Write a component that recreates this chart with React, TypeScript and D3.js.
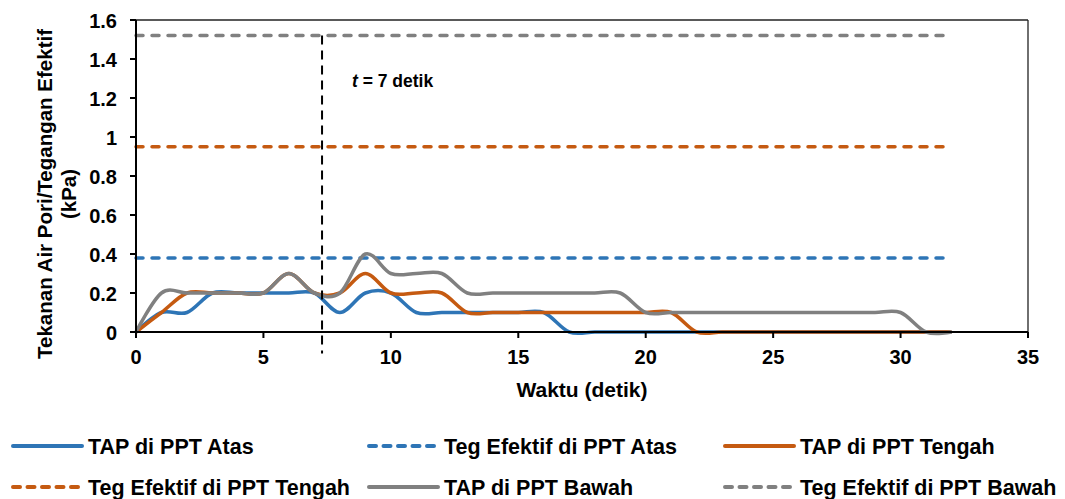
import React from "react";
import * as d3 from "d3";

const times = d3.range(0, 33);
const tapAtas = [0, 0.1, 0.1, 0.2, 0.2, 0.2, 0.2, 0.2, 0.1, 0.2, 0.2, 0.1, 0.1, 0.1, 0.1, 0.1, 0.1, 0, 0, 0, 0, 0, 0, 0, 0, 0, 0, 0, 0, 0, 0, 0, 0];
const tapTengah = [0, 0.1, 0.2, 0.2, 0.2, 0.2, 0.3, 0.2, 0.2, 0.3, 0.2, 0.2, 0.2, 0.1, 0.1, 0.1, 0.1, 0.1, 0.1, 0.1, 0.1, 0.1, 0, 0, 0, 0, 0, 0, 0, 0, 0, 0, 0];
const tapBawah = [0, 0.2, 0.2, 0.2, 0.2, 0.2, 0.3, 0.2, 0.2, 0.4, 0.3, 0.3, 0.3, 0.2, 0.2, 0.2, 0.2, 0.2, 0.2, 0.2, 0.1, 0.1, 0.1, 0.1, 0.1, 0.1, 0.1, 0.1, 0.1, 0.1, 0.1, 0, 0];
const tegAtas = 0.38;
const tegTengah = 0.95;
const tegBawah = 1.52;
const tegRange = [0, 32];
const markerT = 7.3;
const markerTop = 1.52;
const markerBottom = -0.11;
const xTicks = [0, 5, 10, 15, 20, 25, 30, 35];
const yTicks = [0, 0.2, 0.4, 0.6, 0.8, 1, 1.2, 1.4, 1.6];

const BLUE = "#2E75B6";
const ORANGE = "#C55A11";
const GRAY = "#808080";
const FONT = "'Liberation Sans', Arial, sans-serif";

const legendItems = [
  { label: "TAP di PPT Atas", color: BLUE, dashed: false },
  { label: "Teg Efektif di PPT Atas", color: BLUE, dashed: true },
  { label: "TAP di PPT Tengah", color: ORANGE, dashed: false },
  { label: "Teg Efektif di PPT Tengah", color: ORANGE, dashed: true },
  { label: "TAP di PPT Bawah", color: GRAY, dashed: false },
  { label: "Teg Efektif di PPT Bawah", color: GRAY, dashed: true },
];

export default function App() {
  const x = d3.scaleLinear().domain([0, 35]).range([136, 1028]);
  const y = d3.scaleLinear().domain([0, 1.6]).range([332, 20]);
  const line = d3
    .line<number>()
    .x((_, i) => x(times[i]))
    .y((d) => y(d))
    .curve(d3.curveCardinal.tension(0));

  const series = [
    { vals: tapAtas, color: BLUE, kind: "tap" },
    { vals: tegAtas, color: BLUE, kind: "teg" },
    { vals: tapTengah, color: ORANGE, kind: "tap" },
    { vals: tegTengah, color: ORANGE, kind: "teg" },
    { vals: tapBawah, color: GRAY, kind: "tap" },
    { vals: tegBawah, color: GRAY, kind: "teg" },
  ];
  const fmt = d3.format("~g");

  return (
    <svg width={1065} height={499} style={{ position: "absolute", left: 0, top: 0, background: "#fff" }}>
      {/* plot border top/right */}
      <line x1={x(0)} x2={x(35)} y1={y(1.6)} y2={y(1.6)} stroke="#222" strokeWidth={1.3} />
      <line x1={x(35)} x2={x(35)} y1={y(1.6)} y2={y(0)} stroke="#222" strokeWidth={1.3} />

      {series.map((s, i) =>
        s.kind === "tap" ? (
          <path key={i} d={line(s.vals as number[]) || ""} fill="none" stroke={s.color} strokeWidth={3.5} strokeLinejoin="round" />
        ) : (
          <line
            key={i}
            x1={x(tegRange[0])}
            x2={x(tegRange[1])}
            y1={y(s.vals as number)}
            y2={y(s.vals as number)}
            stroke={s.color}
            strokeWidth={3.5}
            strokeDasharray="7,9"
            strokeLinecap="round"
          />
        )
      )}

      {/* vertical marker */}
      <line
        x1={x(markerT)}
        x2={x(markerT)}
        y1={y(markerTop)}
        y2={y(markerBottom)}
        stroke="#000"
        strokeWidth={2}
        strokeDasharray="9,6"
      />
      <text x={352} y={87} fontFamily={FONT} fontSize={17.5} fontWeight="bold">
        <tspan fontStyle="italic">t</tspan> = 7 detik
      </text>

      {/* axes */}
      <line x1={x(0)} x2={x(0)} y1={y(0) + 1} y2={y(1.6)} stroke="#000" strokeWidth={2} />
      <line x1={x(0) - 1} x2={x(35)} y1={y(0)} y2={y(0)} stroke="#000" strokeWidth={2} />
      {yTicks.map((t) => (
        <g key={"y" + t}>
          <line x1={x(0) - 6} x2={x(0)} y1={y(t)} y2={y(t)} stroke="#000" strokeWidth={2} />
          <text x={117} y={y(t) + 7.5} textAnchor="end" fontFamily={FONT} fontSize={20} fontWeight="bold">
            {fmt(t)}
          </text>
        </g>
      ))}
      {xTicks.map((t) => (
        <g key={"x" + t}>
          <line x1={x(t)} x2={x(t)} y1={y(0)} y2={y(0) + 6} stroke="#000" strokeWidth={2} />
          <text x={x(t)} y={364} textAnchor="middle" fontFamily={FONT} fontSize={20} fontWeight="bold">
            {fmt(t)}
          </text>
        </g>
      ))}

      <text x={582} y={397} textAnchor="middle" fontFamily={FONT} fontSize={21} fontWeight="bold">
        Waktu (detik)
      </text>
      <g transform="translate(52,194) rotate(-90)">
        <text x={0} y={0} textAnchor="middle" fontFamily={FONT} fontSize={20.5} fontWeight="bold">
          Tekanan Air Pori/Tegangan Efektif
        </text>
        <text x={0} y={24} textAnchor="middle" fontFamily={FONT} fontSize={20.5} fontWeight="bold">
          (kPa)
        </text>
      </g>

      {/* legend */}
      {legendItems.map((it, i) => {
        const col = i % 3;
        const row = Math.floor(i / 3);
        const lx = 12 + col * 356;
        const ly = 446 + row * 41;
        return (
          <g key={it.label}>
            <line
              x1={lx + 1}
              x2={lx + 70}
              y1={ly}
              y2={ly}
              stroke={it.color}
              strokeWidth={4}
              strokeLinecap="round"
              strokeDasharray={it.dashed ? "7,7.5" : undefined}
            />
            <text x={lx + 76} y={ly + 7.5} fontFamily={FONT} fontSize={21.5} fontWeight="bold">
              {it.label}
            </text>
          </g>
        );
      })}
    </svg>
  );
}
